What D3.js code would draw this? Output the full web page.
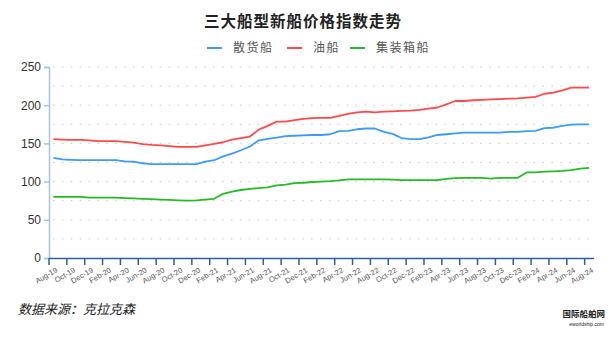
<!DOCTYPE html>
<html>
<head>
  <meta charset="utf-8">
  <script src="https://d3js.org/d3.v7.min.js"></script>
  <style>
    body { margin: 0; background: #fff; }
    svg { display: block; }
    .grid line { stroke: #c8c8c8; stroke-dasharray: 1.5,7.4; }
    .y-axis text { font-family: "Liberation Sans", Arial, sans-serif; font-size: 12px; fill: #333; }
    .x-axis text { font-family: "Liberation Sans", Arial, sans-serif; font-size: 7.5px; fill: #555; }
  </style>
</head>
<body>
  <svg id="chart" width="616" height="340"></svg>
  <script>
    // 月份（2019年8月 - 2024年8月）
    const monthNames = ["Jan","Feb","Mar","Apr","May","Jun","Jul","Aug","Sep","Oct","Nov","Dec"];
    const months = [];
    for (let k = 0; k < 61; k++) {
      const m = (7 + k) % 12;
      const yr = 19 + Math.floor((7 + k) / 12);
      months.push(monthNames[m] + "-" + yr);
    }

    const seriesNames = ["散货船", "油船", "集装箱船"];
    const seriesColors = ["#3d9aff", "#ff4a4a", "#25bb25"];

    // 散货船
    const bulkIndex = [131, 129, 128.5, 128, 128, 128, 128, 128, 126.5, 126, 124, 123, 123, 123, 123, 123, 123,
      126, 128, 133, 136.5, 141, 146, 154, 156, 157.5, 159.5, 160, 160.5, 161, 161, 162, 166, 166.5, 168.5,
      169.5, 169.5, 165, 162.5, 157, 155.5, 155.5, 158, 161, 162, 163, 164, 164, 164, 164, 164, 165, 165,
      166, 166.5, 170, 170.5, 173, 174.5, 175, 175];
    // 油船
    const tankerIndex = [155.5, 155, 154.5, 154.5, 154, 153, 153, 153, 152, 151, 149, 148, 147.5, 146.5, 145.5,
      145.5, 145.5, 147.5, 149.5, 151.5, 155, 157, 159, 168, 173, 178.5, 178.5, 180.5, 182, 183, 183.5, 183.5,
      186, 188.5, 190.5, 191.5, 190.5, 191.5, 192, 192.5, 193, 194, 195.5, 197, 201, 205.5, 205.5, 206.5, 207,
      207.5, 208, 208.5, 209, 210, 211, 215, 216.5, 219.5, 223, 223, 223];
    // 集装箱船
    const containerIndex = [80, 80, 80, 80, 79, 79, 79, 79, 78.5, 78, 77.5, 77, 76.5, 76, 75.5, 75, 75.5, 76.5,
      77.5, 84, 87, 89, 90.5, 91.5, 92.5, 95, 96, 98, 98.5, 99.5, 100, 100.5, 101.5, 103, 103, 103, 103, 103,
      102.5, 102, 102, 102, 102, 102, 103.5, 104.5, 105, 105, 105, 104, 105, 105, 105, 112, 112, 113, 113.5,
      114, 115, 117, 118];

    const yTicks = [0, 50, 100, 150, 200, 250];
    const gridTicks = [25, 50, 75, 100, 125, 150, 175, 200, 225, 250];

    const svg = d3.select("#chart");
    const plotLeft = 49, plotRight = 593.6, plotTop = 67, plotBottom = 258;

    const x = d3.scaleBand().domain(months).range([plotLeft, plotRight]).padding(0);
    const y = d3.scaleLinear().domain([0, 250]).range([plotBottom, plotTop]);

    // 标题
    svg.append("text")
      .attr("x", 303).attr("y", 27)
      .attr("text-anchor", "middle")
      .style("font-family", "'Noto Sans CJK SC', sans-serif")
      .style("font-weight", "bold")
      .style("font-size", "15.5px")
      .style("letter-spacing", "1px")
      .style("fill", "#222")
      .text("三大船型新船价格指数走势");

    // 图例
    const legendX = [207, 287, 350];
    const legend = svg.append("g");
    seriesNames.forEach((name, i) => {
      legend.append("line")
        .attr("x1", legendX[i]).attr("x2", legendX[i] + 15)
        .attr("y1", 48).attr("y2", 48)
        .attr("stroke", seriesColors[i]).attr("stroke-width", 2);
      legend.append("text")
        .attr("x", legendX[i] + 26).attr("y", 52)
        .style("font-family", "'Noto Sans CJK SC', sans-serif")
        .style("font-size", "12px")
        .style("letter-spacing", "1.5px")
        .style("fill", "#555")
        .text(name);
    });

    // 网格线
    svg.append("g").attr("class", "grid")
      .selectAll("line").data(gridTicks).join("line")
      .attr("x1", plotLeft + 4).attr("x2", plotRight - 4)
      .attr("y1", d => y(d)).attr("y2", d => y(d));

    // Y轴
    const yAxis = svg.append("g").attr("class", "y-axis")
      .attr("transform", `translate(${plotLeft},0)`)
      .call(d3.axisLeft(y).tickValues(yTicks).tickSize(5).tickPadding(3));
    yAxis.select(".domain").attr("stroke", "#a9c2de").attr("stroke-width", 1.5);
    yAxis.selectAll(".tick line").attr("stroke", "#a9c2de").attr("stroke-width", 1.5);

    // X轴
    const xAxis = svg.append("g").attr("class", "x-axis")
      .attr("transform", `translate(0,${plotBottom})`)
      .call(d3.axisBottom(x).tickValues(months.filter((d, i) => i % 2 === 0)).tickSize(0).tickSizeOuter(0));
    xAxis.select(".domain").attr("stroke", "#2f609a").attr("stroke-width", 1.5);
    xAxis.selectAll(".tick").each(function(d) {
      const g = d3.select(this);
      const off = -x.bandwidth() / 2;
      g.append("line").attr("x1", off).attr("x2", off).attr("y1", 0).attr("y2", 7)
        .attr("stroke", "#2f609a").attr("stroke-width", 1.5);
      g.select("text")
        .attr("text-anchor", "end")
        .attr("transform", "translate(2,9) rotate(-30)")
        .attr("dy", "0.7em").attr("y", 0);
    });

    // 折线
    const line = d3.line()
      .x((d, i) => x(months[i]) + x.bandwidth() / 2)
      .y(d => y(d));
    [bulkIndex, tankerIndex, containerIndex].forEach((vals, i) => {
      svg.append("path")
        .datum(vals)
        .attr("fill", "none")
        .attr("stroke", seriesColors[i])
        .attr("stroke-width", 1.8)
        .attr("stroke-linejoin", "round")
        .attr("d", line);
    });

    // 数据来源
    svg.append("text")
      .attr("x", 18).attr("y", 314)
      .style("font-family", "'Noto Sans CJK SC', sans-serif")
      .style("font-style", "italic")
      .style("font-size", "13px")
      .style("fill", "#222")
      .text("数据来源：克拉克森");

    // 角标
    svg.append("text")
      .attr("x", 605).attr("y", 317)
      .attr("text-anchor", "end")
      .style("font-family", "'Noto Sans CJK SC', sans-serif")
      .style("font-weight", "bold")
      .style("font-size", "8.5px")
      .style("fill", "#222")
      .text("国际船舶网");
    svg.append("text")
      .attr("x", 604).attr("y", 326)
      .attr("text-anchor", "end")
      .style("font-family", "'Liberation Sans', sans-serif")
      .style("font-size", "5px")
      .style("fill", "#222")
      .text("eworldship.com");
  </script>
</body>
</html>
